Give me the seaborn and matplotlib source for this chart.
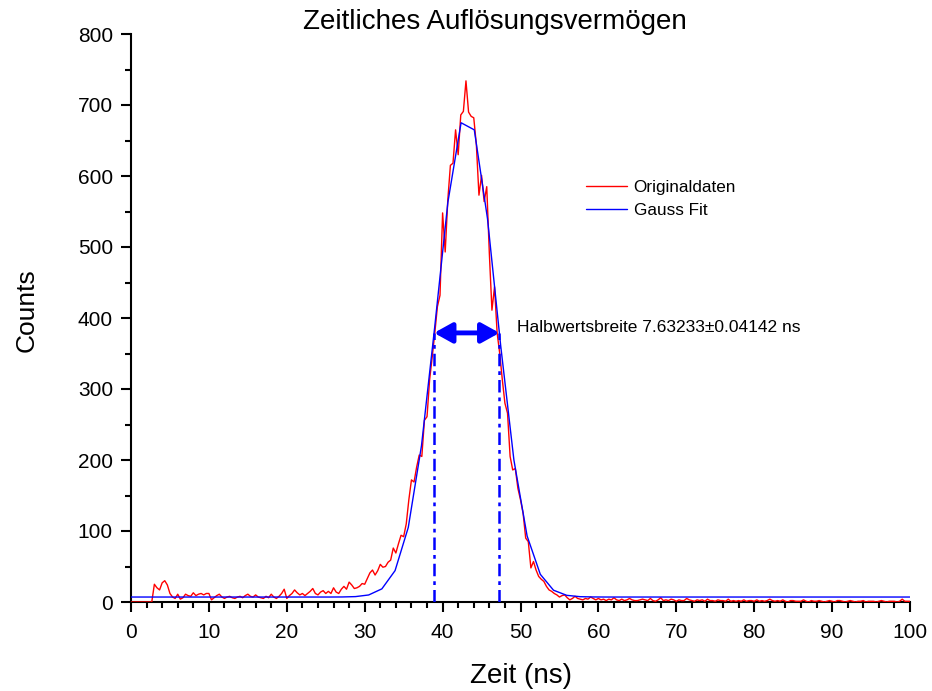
import numpy as np
import pandas as pd
import matplotlib
matplotlib.use("Agg")
import matplotlib.pyplot as plt
from matplotlib.ticker import MultipleLocator
import seaborn as sns

# ---------------- data ----------------
# Originaldaten: 3 samples per ns, 0 ... 100 ns
orig_counts = [
    0, 0, 0,   0, 0, 0,   0, 0, 0,          # 0-2
    25, 20, 17,  27, 30, 24,  12, 7, 5,     # 3-5
    11, 4, 6,  11, 9, 8,  13, 9, 11,        # 6-8
    12, 10, 12,  12, 3, 6,  9, 11, 7,       # 9-11
    5, 7, 8,  6, 5, 7,  8, 6, 9,            # 12-14
    11, 8, 7,  10, 7, 6,  5, 8, 6,          # 15-17
    11, 7, 5,  8, 12, 18,  5, 9, 12,        # 18-20
    17, 13, 10,  12, 9, 12,  15, 19, 12,    # 21-23
    10, 14, 16,  12, 15, 12,  20, 14, 12,   # 24-26
    18, 22, 18,  28, 24, 19,  20, 22, 26,   # 27-29
    25, 33, 41,  45, 38, 44,  53, 49, 50,   # 30-32
    56, 59, 76,  69, 82, 94,  92, 110, 144, # 33-35
    172, 169, 190,  207, 205, 256,  261, 313, 345,  # 36-38
    379, 416, 432,  548, 493, 566,  615, 618, 665,  # 39-41
    630, 686, 691,  734, 690, 684,  682, 644, 573,  # 42-44
    601, 564, 585,  491, 411, 444,  379, 350, 313,  # 45-47
    280, 266, 205,  186, 188, 160,  144, 125, 90,   # 48-50
    85, 48, 57,  45, 36, 32,  29, 22, 17,   # 51-53
    15, 12, 10,  7, 9, 10,  6, 3, 5,        # 54-56
    8, 5, 4,  3, 5, 4,  7, 5, 3,            # 57-59
    5, 3, 4,  2, 4, 3,  6, 3, 2,            # 60-62
    4, 2, 3,  5, 3, 2,  2, 3, 4,            # 63-65
    3, 2, 5,  2, 1, 3,  6, 2, 3,            # 66-68
    2, 4, 3,  1, 3, 2,  2, 5, 3,            # 69-71
    2, 1, 3,  2, 3, 1,  4, 2, 2,            # 72-74
    1, 3, 2,  2, 1, 4,  1, 2, 1,            # 75-77
    2, 1, 3,  1, 2, 2,  1, 3, 1,            # 78-80
    2, 1, 2,  4, 2, 1,  2, 1, 3,            # 81-83
    1, 0, 2,  2, 1, 1,  1, 3, 1,            # 84-86
    0, 2, 1,  1, 2, 1,  0, 1, 2,            # 87-89
    1, 0, 2,  2, 1, 0,  1, 2, 1,            # 90-92
    0, 1, 1,  2, 0, 1,  1, 1, 0,            # 93-95
    1, 2, 1,  0, 1, 1,  1, 0, 1,            # 96-98
    4, 1, 1,  1,                            # 99-100
]
orig_time = np.linspace(0, 100, len(orig_counts))

# Gauss Fit: 60 samples from 0 to 100 ns
fit_counts = [
    7.0, 7.0, 7.0, 7.0, 7.0, 7.0, 7.0, 7.0, 7.0, 7.0,
    7.0, 7.0, 7.0, 7.0, 7.0, 7.0, 7.1, 7.6, 9.9, 18.5,
    44.2, 105, 220, 387, 563, 675, 665, 540, 361, 200,
    93, 39, 16.6, 9.4, 7.5, 7.1, 7.0, 7.0, 7.0, 7.0,
    7.0, 7.0, 7.0, 7.0, 7.0, 7.0, 7.0, 7.0, 7.0, 7.0,
    7.0, 7.0, 7.0, 7.0, 7.0, 7.0, 7.0, 7.0, 7.0, 7.0,
]
fit_time = np.linspace(0, 100, len(fit_counts))

fwhm_left, fwhm_right, fwhm_level = 38.9, 47.3, 379
fwhm_label = "Halbwertsbreite 7.63233±0.04142 ns"

df_orig = pd.DataFrame({"Zeit": orig_time, "Counts": orig_counts})
df_fit = pd.DataFrame({"Zeit": fit_time, "Counts": fit_counts})

# ---------------- style ----------------
sns.set_theme(style="ticks")
plt.rcParams["font.family"] = ["Liberation Sans", "DejaVu Sans"]
plt.rcParams["axes.linewidth"] = 1.5
plt.rcParams["text.color"] = "black"
plt.rcParams["axes.labelcolor"] = "black"
plt.rcParams["xtick.color"] = "black"
plt.rcParams["ytick.color"] = "black"

fig = plt.figure(figsize=(9.32, 6.91), dpi=100)
ax = fig.add_axes([131 / 932, 1 - 602 / 691, 779 / 932, 568 / 691])

sns.lineplot(data=df_orig, x="Zeit", y="Counts", ax=ax, color="#ff0000",
             lw=1.0, label="Originaldaten", estimator=None, sort=False, zorder=3)
sns.lineplot(data=df_fit, x="Zeit", y="Counts", ax=ax, color="#0000ff",
             lw=1.0, label="Gauss Fit", estimator=None, sort=False, zorder=4)

# FWHM marker
for xv in (fwhm_left, fwhm_right):
    ax.plot([xv, xv], [0, fwhm_level], color="#0000ff", lw=1.8,
            linestyle=(0, (5, 2, 1.5, 2)), zorder=5)
ax.annotate("", xy=(fwhm_left, fwhm_level), xytext=(fwhm_right, fwhm_level),
            arrowprops=dict(arrowstyle="<|-|>,head_length=0.9,head_width=0.5",
                            color="#0000ff", lw=3.5, shrinkA=0, shrinkB=0),
            zorder=6)
ax.text(49.5, 387, fwhm_label, fontsize=12.5, va="center", ha="left", color="black")

ax.set_xlim(0, 100)
ax.set_ylim(0, 800)
ax.xaxis.set_major_locator(MultipleLocator(10))
ax.xaxis.set_minor_locator(MultipleLocator(2))
ax.yaxis.set_major_locator(MultipleLocator(100))
ax.yaxis.set_minor_locator(MultipleLocator(50))
ax.tick_params(which="major", direction="out", length=7, width=1.5,
               labelsize=15, colors="black")
ax.tick_params(axis="x", which="major", pad=8)
ax.tick_params(axis="y", which="major", pad=6)
ax.tick_params(which="minor", direction="out", length=4.5, width=1.5, colors="black")
sns.despine(ax=ax)
for sp in ("left", "bottom"):
    ax.spines[sp].set_color("black")

ax.set_xlabel("Zeit (ns)", fontsize=20)
ax.set_ylabel("Counts", fontsize=19)
ax.xaxis.set_label_coords(0.5, -0.108)
ax.yaxis.set_label_coords(-0.118, 0.514)

fig.text(495 / 932, 1 - 22 / 691, "Zeitliches Auflösungsvermögen", fontsize=20,
         ha="center", va="center", color="black")

leg = ax.legend(loc="upper left", bbox_to_anchor=(0.575, 0.755), frameon=False,
                fontsize=12.3, handlelength=2.4, handletextpad=0.4,
                labelspacing=0.45, borderaxespad=0)

fig.savefig("out.png", dpi=100)
